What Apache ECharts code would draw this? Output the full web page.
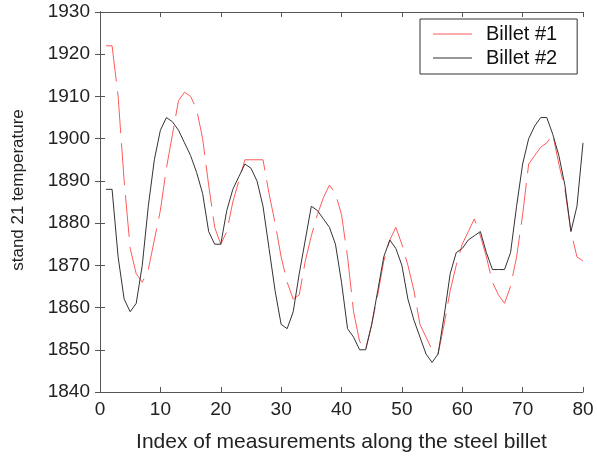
<!DOCTYPE html>
<html><head><meta charset="utf-8">
<script src="https://cdn.jsdelivr.net/npm/echarts@6/dist/echarts.min.js"></script>
<style>html,body{margin:0;padding:0;background:#fff}#c{width:597px;height:459px}</style>
</head><body><div id="c"></div>
<script>
var indexValues = [];
for (var i = 1; i <= 80; i++) indexValues.push(i);
var billet1 = [1922,1922,1910,1890,1874,1868,1866,1869,1876,1883,1893,1901,1909,1911,1910,1907,1900,1889,1879,1875,
  1878,1885,1890,1895,1895,1895,1895,1887,1880,1872,1866,1862,1863,1871,1877,1882,1886,1889,1887,1882,
  1872,1859,1852,1850,1856,1863,1871,1876,1879,1875,1870,1864,1856,1853,1850,1849,1856,1864,1870,1875,
  1878,1881,1877,1872,1866,1863,1861,1865,1872,1882,1894,1896,1898,1899,1901,1894,1888,1878,1872,1871];
var billet2 = [1888,1888,1872,1862,1859,1861,1870,1884,1895,1902,1905,1904,1902,1899,1896,1892,1887,1878,1875,1875,
  1883,1888,1891,1894,1893,1890,1884,1874,1864,1856,1855,1859,1868,1876,1884,1883,1881,1879,1875,1866,
  1855,1853,1850,1850,1856,1864,1872,1876,1874,1870,1862,1857,1853,1849,1847,1849,1858,1868,1873,1874,
  1876,1877,1878,1873,1869,1869,1869,1873,1884,1894,1900,1903,1905,1905,1901,1896,1889,1878,1884,1899];
var seriesNames = ['Billet #1', 'Billet #2'];
var xTitle = 'Index of measurements along the steel billet';
var yTitle = 'stand 21 temperature';

function pairs(v) { return v.map(function (y, k) { return [indexValues[k], y]; }); }

var font = 'Liberation Sans, Arial, sans-serif';
var axisCol = '#555';
var chart = echarts.init(document.getElementById('c'), null, {renderer: 'canvas'});
chart.setOption({
  animation: false,
  grid: {left: 100, right: 14, top: 12, bottom: 67, containLabel: false},
  legend: {
    orient: 'vertical', left: 420, top: 19,
    data: seriesNames,
    borderColor: '#333', borderWidth: 1, borderRadius: 0,
    padding: [5, 20, 6, 13], itemGap: 4, itemWidth: 39, itemHeight: 20,
    textStyle: {fontFamily: font, fontSize: 20, color: '#111', padding: [0, 0, 0, 9]},
    icon: 'path://M0,10 L40,10 L40,11 L0,11 Z'
  },
  xAxis: [{
    type: 'value', min: 0, max: 80, interval: 10,
    name: xTitle, nameLocation: 'middle', nameGap: 40,
    nameTextStyle: {fontFamily: font, fontSize: 21, color: '#222'},
    axisLine: {show: true, lineStyle: {color: axisCol}},
    axisTick: {show: true, inside: true, length: 5, lineStyle: {color: axisCol}},
    axisLabel: {fontFamily: font, fontSize: 19, color: '#222', margin: 8},
    splitLine: {show: false}
  }, {
    type: 'value', min: 0, max: 80, interval: 10, position: 'top',
    axisLine: {show: true, lineStyle: {color: axisCol}},
    axisTick: {show: true, inside: true, length: 5, lineStyle: {color: axisCol}},
    axisLabel: {show: false}, splitLine: {show: false}
  }],
  yAxis: [{
    type: 'value', min: 1840, max: 1930, interval: 10,
    name: yTitle, nameLocation: 'middle', nameGap: 73, nameRotate: 90,
    nameTextStyle: {fontFamily: font, fontSize: 17, color: '#222', padding: [0, 0, 0, 24]},
    axisLine: {show: true, lineStyle: {color: axisCol}},
    axisTick: {show: true, inside: true, length: 5, lineStyle: {color: axisCol}},
    axisLabel: {fontFamily: font, fontSize: 19, color: '#222', margin: 10,
      formatter: function (v) { return String(v); }},
    splitLine: {show: false}
  }, {
    type: 'value', min: 1840, max: 1930, interval: 10, position: 'right',
    axisLine: {show: true, lineStyle: {color: axisCol}},
    axisTick: {show: true, inside: true, length: 5, lineStyle: {color: axisCol}},
    axisLabel: {show: false}, splitLine: {show: false}
  }],
  series: [{
    name: seriesNames[0], type: 'line', data: pairs(billet1), showSymbol: false, symbol: 'none',
    lineStyle: {color: '#ff5a5a', width: 1, type: [42, 10]}, itemStyle: {color: '#ff5a5a'}
  }, {
    name: seriesNames[1], type: 'line', data: pairs(billet2), showSymbol: false, symbol: 'none',
    lineStyle: {color: '#333', width: 1}, itemStyle: {color: '#333'}
  }]
});
</script></body></html>
